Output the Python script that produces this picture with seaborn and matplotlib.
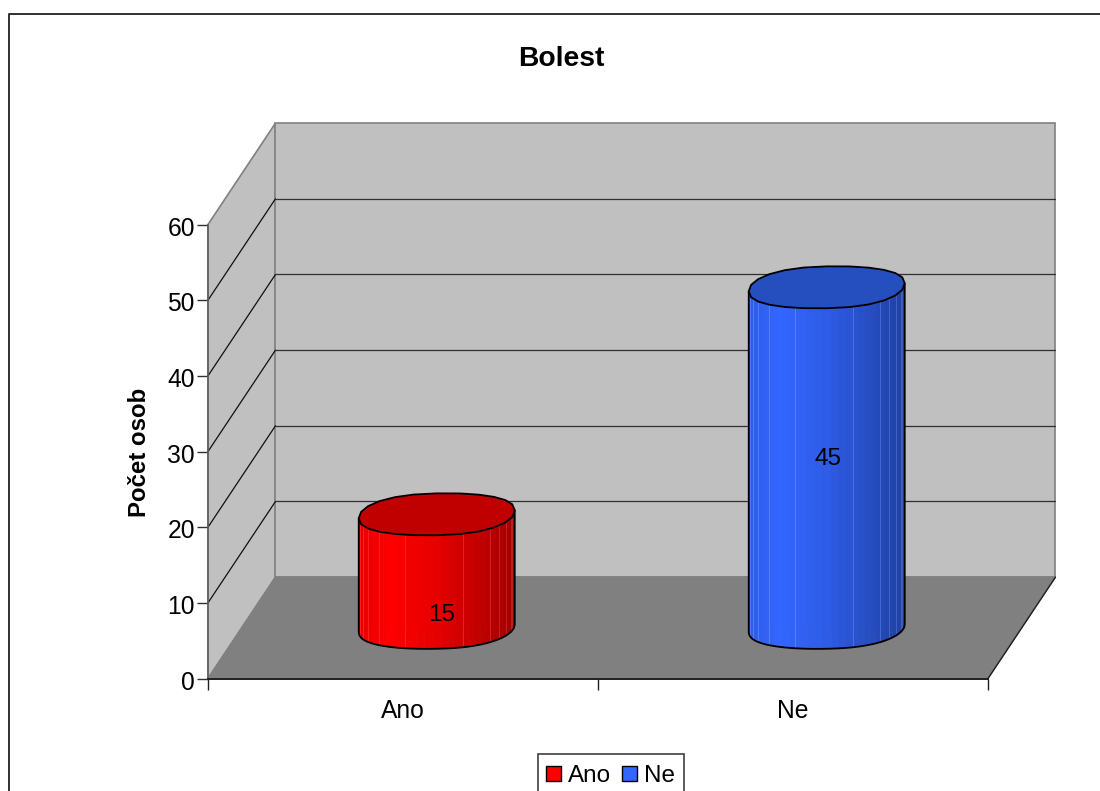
import numpy as np
import matplotlib
matplotlib.use("Agg")
import matplotlib.pyplot as plt
from matplotlib.lines import Line2D
from matplotlib.patches import Polygon, Rectangle
from matplotlib.transforms import Affine2D
import seaborn as sns

title = "Bolest"
y_title = "Počet osob"
categories = ["Ano", "Ne"]
values = [15, 45]
y_ticks = [0, 10, 20, 30, 40, 50, 60]
bar_colors = ["#FF0000", "#3366FF"]
cap_colors = ["#C00000", "#254EBF"]

# Where each value label sits along its cylinder, and its sideways nudge
label_fraction = [0.115, 0.497]
label_nudge = [0.013, 0.003]

# Oblique projection: full depth of the box, in axis units
DEPTH_X = 0.173
DEPTH_Y = 13.4
# Cylinder end caps, in value units
CAP_B = 2.77
CAP_SHEAR = 0.53
WALL = "#C0C0C0"
FLOOR = "#808080"
EDGE = "#808080"

sns.set_theme(style="white")
plt.rcParams["font.family"] = ["Liberation Sans", "DejaVu Sans"]

fig = plt.figure(figsize=(11, 7.91), dpi=100)
ax = fig.add_axes([208 / 1100, (791 - 678.5) / 791, 780 / 1100, 454 / 791])

sns.barplot(x=categories, y=values, hue=categories, palette=bar_colors,
            width=0.4, dodge=False, saturation=1, ax=ax, legend=True)
bars = sorted([b for b in ax.patches if b.get_width() > 0 and b.get_height() > 0],
              key=lambda b: b.get_x())
x0, x1 = -0.5, 1.5
ax.set_xlim(x0, x1)
ax.set_ylim(y_ticks[0], y_ticks[-1])
y0, ytop = ax.get_ylim()


def proj(x, v, d=1.0):
    return x + d * DEPTH_X, v + d * DEPTH_Y


def box_poly(points, **kw):
    p = Polygon(points, closed=True, clip_on=False, **kw)
    ax.add_patch(p)
    return p


# Box: side wall, back wall, floor
box_poly([(x0, y0), proj(x0, y0), proj(x0, ytop), (x0, ytop)],
         facecolor=WALL, edgecolor=EDGE, lw=1.2, zorder=0.2)
box_poly([proj(x0, y0), proj(x1, y0), proj(x1, ytop), proj(x0, ytop)],
         facecolor=WALL, edgecolor=EDGE, lw=1.2, zorder=0.2)
box_poly([(x0, y0), (x1, y0), proj(x1, y0), proj(x0, y0)],
         facecolor=FLOOR, edgecolor=EDGE, lw=1.0, zorder=0.3)
ax.add_line(Line2D([x1, proj(x1, y0)[0]], [y0, proj(x1, y0)[1]],
                   color="#202020", lw=1.0, clip_on=False, zorder=0.4))

# Grid lines run along the side wall and across the back wall
for v in y_ticks[1:-1]:
    sx, sy = proj(x0, v)
    ex, ey = proj(x1, v)
    ax.add_line(Line2D([x0, sx], [v, sy], color="#101010", lw=0.9,
                       clip_on=False, zorder=0.35))
    ax.add_line(Line2D([sx, ex], [sy, ey], color="#303030", lw=0.9,
                       clip_on=False, zorder=0.35))

# Seaborn's flat bars are pushed to mid depth and dressed up as cylinders
shift = Affine2D().translate(DEPTH_X / 2, DEPTH_Y / 2) + ax.transData


def cap(cx, a, v, t):
    c, s = np.cos(t), np.sin(t)
    squarish_c = np.sign(c) * np.abs(c) ** 0.9
    squarish_s = np.sign(s) * np.abs(s) ** 0.9
    tilt = CAP_SHEAR * (0.5 * c + 0.5 * c ** 3)
    return (cx + a * squarish_c + DEPTH_X / 2,
            v + CAP_B * squarish_s + tilt + DEPTH_Y / 2)


def shade(frac):
    return np.interp(frac, [0, 0.2, 0.5, 0.8, 1.0], [0.90, 1.0, 0.90, 0.74, 0.62])


SEAMS = [2, 4, 6, 9, 14, 22, 27, 29, 31, 33, 34, 35]
for i, bar in enumerate(bars):
    a = bar.get_width() / 2
    cx = bar.get_x() + a
    h = bar.get_height()
    bar.set_transform(shift)
    bar.set_edgecolor("none")
    bar.set_zorder(2)

    steps = np.linspace(np.pi, 2 * np.pi, 38)
    bx, by = cap(cx, a, 0, steps)
    tx, ty = cap(cx, a, h, steps)
    body = box_poly(np.r_[np.c_[bx, by], np.c_[tx, ty][::-1]],
                    facecolor="none", edgecolor="none", zorder=2)
    bar.set_clip_box(None)
    bar.set_clip_path(body)

    # Vertical facets lit from the left
    base = np.array(matplotlib.colors.to_rgb(bar_colors[i]))
    for k in range(len(steps) - 1):
        frac = (bx[k] - bx[0]) / (bx[-1] - bx[0])
        frac2 = (bx[k + 1] - bx[0]) / (bx[-1] - bx[0])
        col = base * shade((frac + frac2) / 2)
        box_poly([(bx[k], by[k]), (bx[k + 1], by[k + 1]),
                  (tx[k + 1], ty[k + 1]), (tx[k], ty[k])],
                 facecolor=col, edgecolor=col, lw=0.3, zorder=3)
    for k in SEAMS:
        seam = np.minimum(base * shade((bx[k] - bx[0]) / (bx[-1] - bx[0])) + 0.12, 1)
        ax.add_line(Line2D([bx[k], tx[k]], [by[k], ty[k]], color=seam, lw=0.7,
                           clip_on=False, zorder=3.1))

    # Outline and top cap
    ring = np.linspace(0, 2 * np.pi, 25)
    ax.add_line(Line2D(np.r_[tx[0], bx, tx[-1]], np.r_[ty[0], by, ty[-1]],
                       color="black", lw=1.3, clip_on=False, zorder=3.2))
    rx, ry = cap(cx, a, h, ring)
    box_poly(np.c_[rx, ry], facecolor=cap_colors[i], edgecolor="black",
             lw=1.3, zorder=3.3)

    ax.text(cx + DEPTH_X / 2 + label_nudge[i],
            h * label_fraction[i] + DEPTH_Y / 2, str(values[i]),
            ha="center", va="center", fontsize=17.5, color="black",
            clip_on=False, zorder=4)

# Axes
for side in ("top", "right"):
    ax.spines[side].set_visible(False)
ax.spines["left"].set_color("#606060")
ax.spines["left"].set_linewidth(1.2)
ax.spines["bottom"].set_color("#202020")
ax.spines["bottom"].set_linewidth(1.4)
ax.set_yticks(y_ticks)
ax.tick_params(axis="y", length=8, width=1.0, color="#303030", pad=1.5,
               labelsize=17.7, labelcolor="black", left=True)
for lab in ax.get_yticklabels():
    lab.set_transform(lab.get_transform() + Affine2D().translate(0, -1.5))
ax.set_xticks([x0, (x0 + x1) / 2, x1], labels=[])
ax.set_xticks(range(len(categories)), labels=categories, minor=True)
ax.tick_params(axis="x", which="major", length=8, width=1.0, color="#202020", bottom=True)
ax.tick_params(axis="x", which="minor", length=0, pad=15, labelsize=17.7, labelcolor="black")
ax.set_xlabel("")
ax.set_ylabel(y_title, fontsize=17.3, fontweight="bold", color="black")
ax.yaxis.set_label_coords(-57 / 780, 0.497)
ax.text((561 - 208) / 780, (678.5 - 59) / 454, title, transform=ax.transAxes,
        ha="center", va="center", fontsize=20.3, fontweight="bold", color="black")

# Legend frame runs off the lower edge of the canvas; the entries sit inside it
handles = list(ax.get_legend().legend_handles)
ax.get_legend().remove()
fig.add_artist(Rectangle((537.5 / 1100, -0.02), 146.5 / 1100, 1 - 753.5 / 791 + 0.02,
                         transform=fig.transFigure, facecolor="white",
                         edgecolor="#404040", lw=1.2))
legend = fig.legend(handles, categories, loc="upper left",
                    bbox_to_anchor=(546 / 1100, 1 - 765 / 791), ncols=2, fontsize=17.5,
                    frameon=False, labelcolor="black",
                    borderpad=0, handlelength=0.62, handleheight=0.62,
                    handletextpad=0.28, columnspacing=0.45, borderaxespad=0)
for h in legend.legend_handles:
    h.set_edgecolor("black")
    h.set_linewidth(1.0)

# Outer chart frame, open at the right and bottom
fig.add_artist(Line2D([1.0, 8.5 / 1100, 8.5 / 1100],
                      [1 - 14 / 791, 1 - 14 / 791, 0],
                      color="#303030", lw=1.4, transform=fig.transFigure))

fig.savefig("out.png", dpi=100)
